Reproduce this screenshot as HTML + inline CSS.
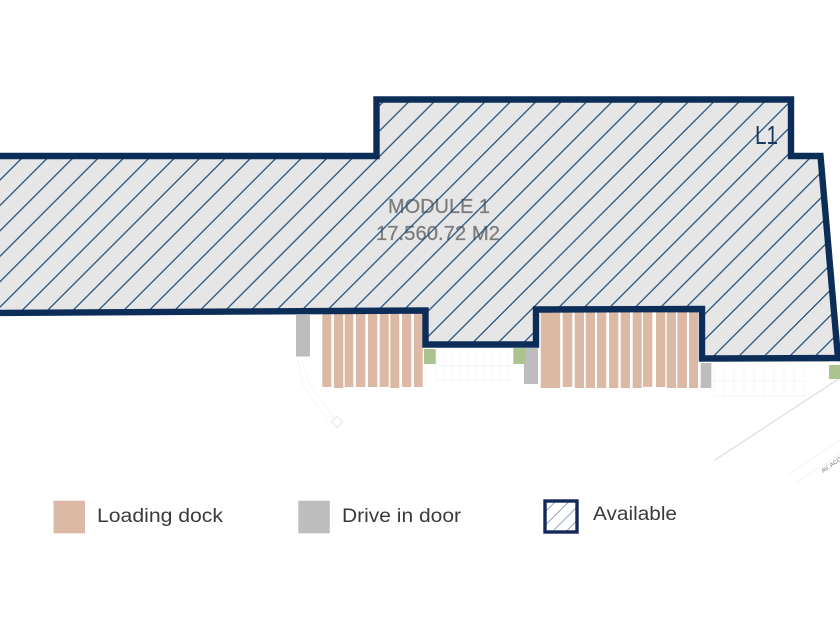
<!DOCTYPE html>
<html><head><meta charset="utf-8"><style>
html,body{margin:0;padding:0;background:#fff;width:840px;height:630px;overflow:hidden}
svg{display:block}
text{font-family:"Liberation Sans",sans-serif}
</style></head><body>
<svg width="840" height="630" viewBox="0 0 840 630" xmlns="http://www.w3.org/2000/svg">
<defs>
<clipPath id="c"><path d="M-10,156 L376.5,156 L376.5,99.5 L791,99.5 L791,156 L820.5,156 L838,358 L702,358.5 L702,309 L536,309.5 L536,344.5 L425.5,344.5 L425.5,310.5 L-10,313 Z"/></clipPath>
<pattern id="h" width="25.42" height="25.42" patternUnits="userSpaceOnUse" patternTransform="translate(2.06 0)">
<path d="M-5,5 L5,-5 M-5,30.42 L30.42,-5 M20.42,30.42 L30.42,20.42" stroke="#1f4d78" stroke-width="1.25" fill="none"/>
</pattern>
<pattern id="l" width="13.5" height="13.5" patternUnits="userSpaceOnUse" patternTransform="translate(4 0)">
<path d="M-3,3 L3,-3 M-3,16.5 L16.5,-3 M10.5,16.5 L16.5,10.5" stroke="#8fa5c0" stroke-width="1" fill="none"/>
</pattern>
</defs>

<!-- faint site details -->
<g fill="none" stroke="#f5f5f5" stroke-width="1">
<path d="M436,352V380M444,352V380M452,352V380M460,352V380M468,352V380M476,352V380M484,352V380M492,352V380M500,352V380M508,352V380M436,366H512M436,380H512"/>
<path d="M714,366V396M724,366V396M734,366V396M744,366V396M754,366V396M764,366V396M774,366V396M784,366V396M794,366V396M804,366V396M714,381H806M714,396H806"/>
<path d="M302,360L310,385L335,420M298,360L303,385L328,420"/>
<rect x="333" y="418" width="8" height="8" transform="rotate(45 337 422)" stroke="#e6e6e6"/>
</g>
<path d="M715,460L840,378" stroke="#dcdcdc" stroke-width="1.2" fill="none"/>
<path d="M787,475L840,440M797,482L840,454" stroke="#f3f3f3" stroke-width="1" fill="none"/>

<!-- loading docks -->
<g fill="#dcb9a5">
<rect x="322.3" y="314" width="9" height="73"/>
<rect x="334" y="314" width="9.3" height="74"/>
<rect x="344.7" y="314" width="8.6" height="73"/>
<rect x="356" y="314" width="9.3" height="73"/>
<rect x="368" y="314" width="9.3" height="73"/>
<rect x="379.7" y="314" width="9" height="73"/>
<rect x="390.3" y="314" width="9" height="74"/>
<rect x="402" y="314" width="9.3" height="73"/>
<rect x="414" y="314" width="8.7" height="73"/>
<rect x="540.7" y="312" width="19.5" height="76"/>
<rect x="562.7" y="312" width="9.6" height="75"/>
<rect x="574.7" y="312" width="9.3" height="76"/>
<rect x="585.7" y="312" width="9.3" height="76"/>
<rect x="597" y="312" width="9.3" height="76"/>
<rect x="609" y="312" width="9.3" height="76"/>
<rect x="620.7" y="312" width="9.3" height="76"/>
<rect x="632.7" y="312" width="9" height="76"/>
<rect x="643" y="312" width="9.3" height="75"/>
<rect x="656" y="312" width="9.3" height="75"/>
<rect x="666.7" y="312" width="9.3" height="76"/>
<rect x="677.3" y="312" width="9.7" height="76"/>
<rect x="689" y="312" width="9" height="76"/>
</g>

<!-- drive-in doors -->
<g fill="#bdbdbd">
<rect x="296" y="315" width="14" height="41.5"/>
<rect x="524" y="348" width="14" height="36"/>
<rect x="700.7" y="363" width="10.6" height="25"/>
</g>
<!-- green -->
<g fill="#abc48f">
<rect x="424" y="349" width="11.7" height="15"/>
<rect x="513.3" y="348" width="11.7" height="16"/>
<rect x="829" y="365" width="11" height="14"/>
</g>
<path d="M712,361H829" stroke="#e3eed5" stroke-width="2" fill="none"/>

<!-- module area -->
<path d="M-10,156 L376.5,156 L376.5,99.5 L791,99.5 L791,156 L820.5,156 L838,358 L702,358.5 L702,309 L536,309.5 L536,344.5 L425.5,344.5 L425.5,310.5 L-10,313 Z" fill="#e6e6e6"/>
<text x="439" y="213" font-size="20" fill="#7d7d7d" stroke="#7d7d7d" stroke-width="0.3" text-anchor="middle" textLength="102" lengthAdjust="spacingAndGlyphs">MODULE 1</text>
<text x="438" y="240" font-size="20" fill="#7d7d7d" stroke="#7d7d7d" stroke-width="0.3" text-anchor="middle" textLength="124" lengthAdjust="spacingAndGlyphs">17.560.72 M2</text>
<g clip-path="url(#c)">
<rect x="0" y="90" width="840" height="280" fill="url(#h)"/>
</g>
<path d="M-10,156 L376.5,156 L376.5,99.5 L791,99.5 L791,156 L820.5,156 L838,358 L702,358.5 L702,309 L536,309.5 L536,344.5 L425.5,344.5 L425.5,310.5 L-10,313" fill="none" stroke="#0d2d59" stroke-width="6.4" stroke-linejoin="miter"/>
<path d="M838,358H845" stroke="#0d2d59" stroke-width="6.4"/>
<text x="755" y="144" font-size="26" fill="#17375e" textLength="23" lengthAdjust="spacingAndGlyphs">L1</text>
<text x="823" y="473" font-size="6" fill="#777" transform="rotate(-35 823 473)">AV. ACO</text>

<!-- legend -->
<rect x="53.5" y="500.7" width="31.5" height="32.6" fill="#dcb9a5"/>
<text x="97" y="522" font-size="19" fill="#3a3a3a" textLength="126" lengthAdjust="spacingAndGlyphs">Loading dock</text>
<rect x="298.3" y="500.7" width="31.5" height="32.6" fill="#bdbdbd"/>
<text x="342" y="522" font-size="19" fill="#3a3a3a" textLength="119" lengthAdjust="spacingAndGlyphs">Drive in door</text>
<rect x="545" y="501" width="32" height="31" fill="url(#l)" stroke="#14285a" stroke-width="3.4"/>
<text x="593" y="520" font-size="19" fill="#3a3a3a" textLength="84" lengthAdjust="spacingAndGlyphs">Available</text>
</svg>
</body></html>
